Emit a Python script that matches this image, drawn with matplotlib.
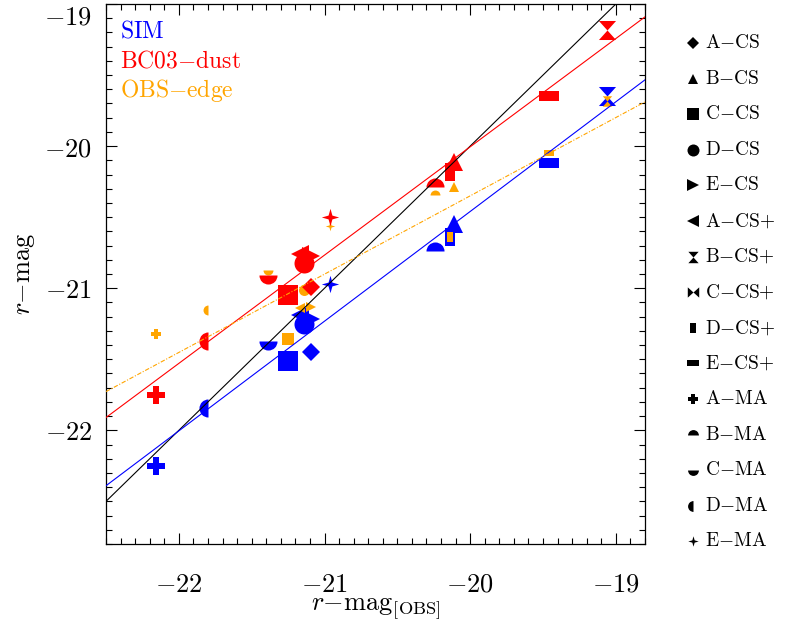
import matplotlib
matplotlib.use("Agg")
import matplotlib.pyplot as plt
import numpy as np
from matplotlib.path import Path
from matplotlib.lines import Line2D
from matplotlib.ticker import MultipleLocator

plt.rcParams["mathtext.fontset"] = "cm"
plt.rcParams["font.family"] = "serif"

# galaxy models, in legend order
models = ["A-CS", "B-CS", "C-CS", "D-CS", "E-CS",
          "A-CS+", "B-CS+", "C-CS+", "D-CS+", "E-CS+",
          "A-MA", "B-MA", "C-MA", "D-MA", "E-MA"]

# observed r-band magnitude of each model (nan = not plotted)
r_obs = [-21.09, -20.11, -21.25, -21.14, -21.09,
         -21.17, -19.06, np.nan, -20.14, -19.46,
         -22.16, -20.24, -21.39, -21.80, -20.96]

# simulated magnitudes
r_sim = [-21.45, -20.55, -21.51, -21.25, -21.22,
         -21.19, -19.65, np.nan, -20.64, -20.12,
         -22.25, -20.74, -21.37, -21.84, -20.97]

# BC03 + dust magnitudes
r_bc03 = [-20.99, -20.11, -21.05, -20.82, -20.77,
          -20.76, -19.18, np.nan, -20.18, -19.65,
          -21.75, -20.29, -20.91, -21.37, -20.50]

# edge-on observed magnitudes
r_edge = [-21.00, -20.29, -21.36, -21.01, -21.13,
          -21.14, -19.68, np.nan, -20.64, -20.05,
          -21.32, -20.345, -20.87, -21.15, -20.56]

# linear fits: (slope, intercept)
fit_sim = (0.772, -5.02)
fit_bc03 = (0.762, -4.765)
fit_edge = (0.551, -9.33)

BLUE = "#0000ff"
RED = "#ff0000"
ORANGE = "#ffa500"


def poly(verts):
    verts = list(verts) + [verts[0]]
    codes = [Path.MOVETO] + [Path.LINETO] * (len(verts) - 2) + [Path.CLOSEPOLY]
    return Path(verts, codes)


hourglass = poly([(-0.9, 1), (0.9, 1), (0, 0), (0.9, -1), (-0.9, -1), (0, 0)])
bowtie = poly([(-1, 0.9), (0, 0), (1, 0.9), (1, -0.9), (0, 0), (-1, -0.9)])
vrect = poly([(-0.55, -1), (0.55, -1), (0.55, 1), (-0.55, 1)])
hrect = poly([(-1, -0.5), (1, -0.5), (1, 0.5), (-1, 0.5)])
star4 = poly([(0, 1), (0.22, 0.22), (1, 0), (0.22, -0.22),
              (0, -1), (-0.22, -0.22), (-1, 0), (-0.22, 0.22)])

# marker, fillstyle, size (pt) for each model
styles = {
    "A-CS": ("D", "full", 9.5),
    "B-CS": ("^", "full", 13),
    "C-CS": ("s", "full", 14.8),
    "D-CS": ("o", "full", 14.4),
    "E-CS": (">", "full", 13.5),
    "A-CS+": ("<", "full", 13.5),
    "B-CS+": (hourglass, "full", 13.7),
    "C-CS+": (bowtie, "full", 13.7),
    "D-CS+": (vrect, "full", 13),
    "E-CS+": (hrect, "full", 13.7),
    "A-MA": ("P", "full", 13),
    "B-MA": ("o", "top", 13),
    "C-MA": ("o", "bottom", 13),
    "D-MA": ("o", "left", 13),
    "E-MA": (star4, "full", 12.5),
}

W, H = 786, 626
fig = plt.figure(figsize=(W / 100, H / 100), dpi=100)
ax = fig.add_axes([106 / W, 82 / H, 539 / W, 540 / H])

xlim = (-22.5, -18.8)
ylim = (-22.8, -19.0)


def mtext(s):
    # upright math text with tight minus and plus signs
    s = s.replace("-", "}{-}\\mathrm{").replace("+", "}{+}\\mathrm{")
    return r"$\mathrm{%s}$" % s


def draw_points(yvals, color, scale):
    for name, x, y in zip(models, r_obs, yvals):
        if np.isnan(x) or np.isnan(y):
            continue
        mk, fs, ms = styles[name]
        ax.plot(x, y, linestyle="none", marker=mk, fillstyle=fs,
                markersize=ms * scale, color=color, markerfacecoloralt="none",
                markeredgewidth=0, zorder=2)


draw_points(r_sim, BLUE, 1.0)
draw_points(r_edge, ORANGE, 0.55)
draw_points(r_bc03, RED, 1.0)

xx = np.array(xlim)
ax.plot(xx, xx, color="black", lw=0.8, zorder=3)
ax.plot(xx, fit_bc03[0] * xx + fit_bc03[1], color=RED, lw=0.8, zorder=3)
ax.plot(xx, fit_sim[0] * xx + fit_sim[1], color=BLUE, lw=0.8, zorder=3)
ax.plot(xx, fit_edge[0] * xx + fit_edge[1], color=ORANGE, lw=0.8,
        linestyle=(0, (4, 1.5, 1, 1.5)), zorder=3)

ax.set_xlim(*xlim)
ax.set_ylim(*ylim)

ticks = [-22, -21, -20, -19]
ax.set_xticks(ticks, [r"$-%d$" % abs(v) for v in ticks])
ax.set_yticks(ticks, [r"$-%d$" % abs(v) for v in ticks])
ax.xaxis.set_minor_locator(MultipleLocator(0.1))
ax.yaxis.set_minor_locator(MultipleLocator(0.1))
ax.tick_params(which="both", direction="in", top=True, right=True, width=0.8)
ax.tick_params(which="major", length=8)
ax.tick_params(which="minor", length=4)
ax.tick_params(axis="x", which="major", labelsize=19, pad=20)
ax.tick_params(axis="y", which="major", labelsize=19, pad=10)
# keep the top y label inside the figure
ax.get_yticklabels()[-1].set_verticalalignment("top")
for sp in ax.spines.values():
    sp.set_linewidth(0.9)

ax.set_xlabel(r"$r{-}\mathrm{mag}_{\mathrm{[OBS]}}$", fontsize=19, labelpad=0)
ax.set_ylabel(r"$r{-}\mathrm{mag}$", fontsize=19, labelpad=5)

# sample labels
ax.text(0.026, 0.950, mtext("SIM"), color=BLUE, fontsize=17,
        transform=ax.transAxes, va="center")
ax.text(0.026, 0.894, mtext("BC03-dust"), color=RED, fontsize=17,
        transform=ax.transAxes, va="center")
ax.text(0.026, 0.839, mtext("OBS-edge"), color=ORANGE, fontsize=17,
        transform=ax.transAxes, va="center")

# model legend on the right
for i, name in enumerate(models):
    ypx = 43 + 35.6 * i
    yf = 1 - ypx / H
    mk, fs, ms = styles[name]
    fig.add_artist(Line2D([693 / W], [yf], transform=fig.transFigure,
                          linestyle="none", marker=mk, fillstyle=fs,
                          markersize=ms * 0.6, color="black",
                          markerfacecoloralt="none", markeredgewidth=0))
    fig.text(705 / W, yf, mtext(name), fontsize=14, va="center")

fig.savefig("out.png", dpi=100)
